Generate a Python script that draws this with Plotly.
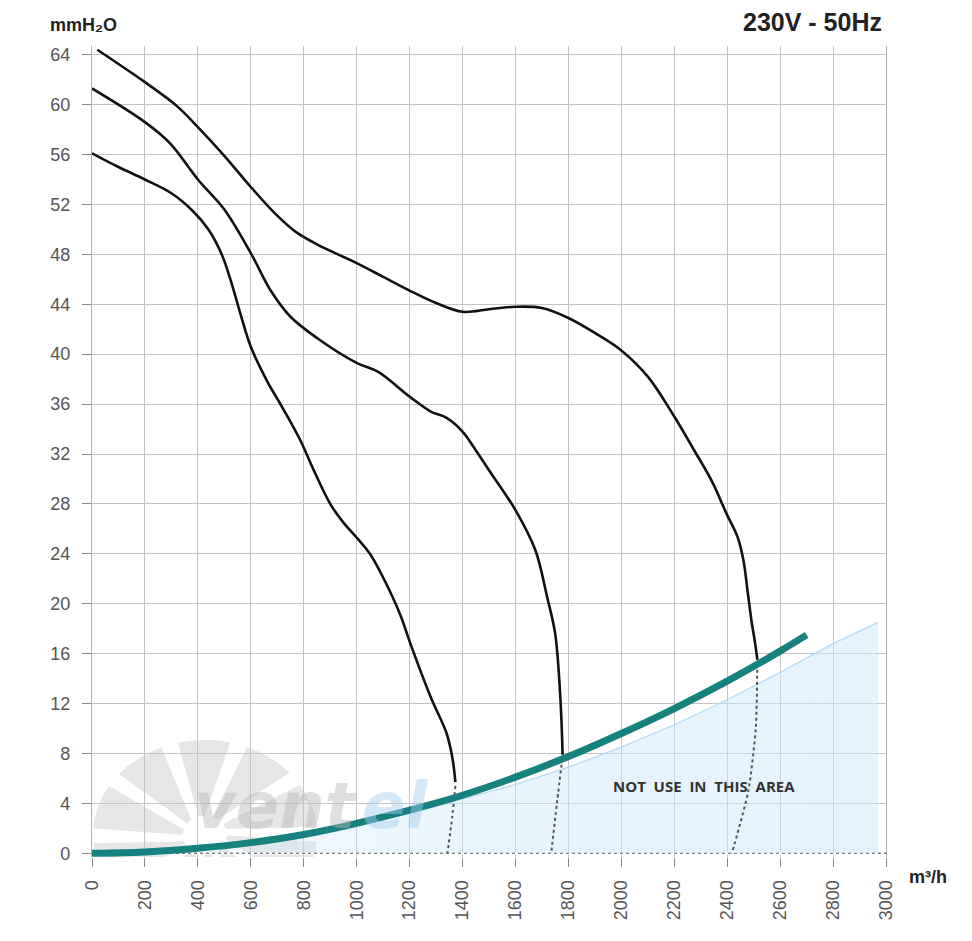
import math
import plotly.graph_objects as go

# ---------------- data ----------------
flow_ticks = list(range(0, 3001, 200))
press_ticks = list(range(0, 65, 4))

c1_x = [20, 200, 320, 400, 500, 600, 700, 770, 850, 1000, 1100, 1200, 1300, 1400,
        1500, 1600, 1700, 1800, 1900, 2000, 2100, 2200, 2275, 2340, 2400, 2440, 2462, 2477, 2492, 2505, 2514]
c1_y = [64.4, 61.8, 59.9, 58.2, 55.9, 53.4, 51.1, 49.8, 48.8, 47.3, 46.2, 45.1, 44.1, 43.4,
        43.6, 43.8, 43.7, 42.9, 41.7, 40.3, 38.2, 35.0, 32.3, 29.9, 27.1, 25.3, 23.4, 21.0, 18.6, 16.9, 15.5]

c2_x = [0, 200, 295, 400, 500, 600, 675, 750, 850, 1000, 1080, 1200, 1280, 1340,
        1400, 1450, 1500, 1600, 1675, 1720, 1750, 1770, 1778]
c2_y = [61.3, 58.6, 56.9, 54.0, 51.6, 48.1, 45.1, 43.0, 41.3, 39.3, 38.6, 36.6, 35.4, 34.9,
        33.8, 32.3, 30.7, 27.5, 24.3, 20.5, 17.6, 12.3, 7.9]

c3_x = [0, 100, 200, 300, 380, 440, 490, 530, 560, 600, 660, 720, 787, 840, 900, 950, 1000, 1050,
        1100, 1165, 1203, 1280, 1340, 1362, 1373]
c3_y = [56.1, 55.0, 54.0, 52.9, 51.5, 50.0, 48.0, 45.5, 43.3, 40.6, 37.9, 35.7, 33.1, 30.6, 28.0, 26.5, 25.3, 24.0,
        22.1, 19.1, 16.8, 12.5, 9.6, 7.6, 5.7]

d1_x = [2514, 2508, 2480, 2418]
d1_y = [15.2, 10.0, 5.0, 0.0]
d2_x = [1777, 1758, 1735]
d2_y = [7.6, 4.25, 0.0]
d3_x = [1373, 1361, 1343]
d3_y = [5.4, 2.9, 0.0]

sys_x = [0, 200, 400, 600, 800, 1000, 1200, 1400, 1600, 1800, 2000, 2200, 2400, 2600, 2700]
sys_y = [0.0, 0.1, 0.4, 0.85, 1.5, 2.4, 3.45, 4.65, 6.1, 7.75, 9.6, 11.6, 13.8, 16.2, 17.5]

zone_x = [0, 400, 800, 1200, 1600, 1800, 2000, 2200, 2400, 2600, 2800, 2970]
zone_y = [0.0, 0.35, 1.3, 3.2, 5.5, 6.9, 8.5, 10.3, 12.3, 14.5, 16.8, 18.5]

# ---------------- layout geometry ----------------
OFF = 8  # page body margin
X0, X1 = 0, 3000
Y0, Y1 = -0.3, 64.7
W, H = 956, 925
ML, MR, MT, MB = 84, 78, 38, 76
pw = W - ML - MR
ph = H - MT - MB


def px2x(px):  # page pixel -> data x
    return X0 + (px - OFF - ML) / pw * (X1 - X0)


def py2y(py):  # page pixel -> data y
    return Y0 + (H - MB - (py - OFF)) / ph * (Y1 - Y0)


def ppx(px):  # page pixel -> paper x
    return (px - OFF - ML) / pw


def ppy(py):  # page pixel -> paper y
    return (H - MB - (py - OFF)) / ph


fig = go.Figure()

# not-use zone fill
fig.add_trace(go.Scatter(
    x=zone_x + [zone_x[-1], zone_x[0]], y=zone_y + [0, 0],
    fill="toself", mode="lines", line=dict(width=0),
    fillgradient=dict(type="horizontal",
                      colorscale=[[0, "rgba(205,232,250,0.0)"], [0.3, "rgba(205,232,250,0.35)"],
                                  [0.6, "rgba(205,232,250,0.48)"], [1, "rgba(205,232,250,0.52)"]]),
    hoverinfo="skip"))
fig.add_trace(go.Scatter(x=zone_x, y=zone_y, mode="lines",
                         line=dict(color="rgba(175,215,242,0.9)", width=1.3), hoverinfo="skip"))

# dotted extensions
for dx, dy in [(d1_x, d1_y), (d2_x, d2_y), (d3_x, d3_y)]:
    fig.add_trace(go.Scatter(x=dx, y=dy, mode="lines", line=dict(color="#555", width=2, dash="dot",
                                                                  shape="spline", smoothing=0.6),
                             hoverinfo="skip"))

# fan curves
for cx, cy in [(c1_x, c1_y), (c2_x, c2_y), (c3_x, c3_y)]:
    fig.add_trace(go.Scatter(x=cx, y=cy, mode="lines",
                             line=dict(color="#111", width=2.6, shape="spline", smoothing=1.0)))

# system curve
fig.add_trace(go.Scatter(x=sys_x, y=sys_y, mode="lines",
                         line=dict(color="#178180", width=7, shape="spline", smoothing=1.0)))

# ---------------- watermark fan blades ----------------
shapes = []
cxp, cyp, rx, ry = 205, 835, 112, 95
for i in range(10):
    th = math.radians(i * 36 + 5)
    pts = [(0.2, math.radians(14))]
    for k in range(6):
        pts.append((1.0, math.radians(k * 5.4)))
    pts.append((0.2, math.radians(30)))
    coords = []
    for r, da in pts:
        a = th + da
        coords.append((px2x(cxp + r * rx * math.cos(a)), py2y(cyp - r * ry * math.sin(a))))
    path = "M " + " L ".join(f"{x:.2f},{y:.3f}" for x, y in coords) + " Z"
    shapes.append(dict(type="path", path=path, xref="x", yref="y", layer="below",
                       fillcolor="rgba(200,200,200,0.45)", line=dict(width=0)))

# dotted baseline at 0
shapes.append(dict(type="line", xref="x", yref="y", x0=X0, x1=X1, y0=0, y1=0, layer="between",
                   line=dict(color="white", width=2.5)))
shapes.append(dict(type="line", xref="x", yref="y", x0=X0, x1=X1, y0=0, y1=0, layer="between",
                   line=dict(color="#777", width=1.4, dash="dot")))

wx = px2x(360)
wy = py2y(806)
annotations = [
    dict(text="vent", xref="x", yref="y", x=wx, y=wy, xanchor="right", yanchor="middle",
         showarrow=False,
         font=dict(family="DejaVu Sans", size=64, color="rgba(185,185,185,0.45)",
                   style="italic", weight="bold")),
    dict(text="el", xref="x", yref="y", x=wx, y=wy, xanchor="left", yanchor="middle",
         showarrow=False,
         font=dict(family="DejaVu Sans", size=64, color="rgba(160,205,240,0.45)",
                   style="italic", weight="bold")),
    dict(text="mmH\u2082O", xref="paper", yref="paper", x=ppx(48), y=ppy(25),
         xanchor="left", yanchor="middle", showarrow=False,
         font=dict(family="Liberation Sans", size=18, color="#222", weight="bold")),
    dict(text="230V - 50Hz", xref="paper", yref="paper", x=ppx(884), y=ppy(22),
         xanchor="right", yanchor="middle", showarrow=False,
         font=dict(family="Liberation Sans", size=25, color="#222", weight="bold")),
    dict(text="m³/h", xref="paper", yref="paper", x=ppx(907), y=ppy(877),
         xanchor="left", yanchor="middle", showarrow=False,
         font=dict(family="Liberation Sans", size=18, color="#222", weight="bold")),
    dict(text="NOT  USE  IN  THIS  AREA", xref="x", yref="y",
         x=px2x(704), y=py2y(786), xanchor="center", yanchor="middle", showarrow=False,
         font=dict(family="Open Sans", size=15, color="#333", weight="bold")),
]

fig.update_layout(
    width=W, height=H, margin=dict(l=ML, r=MR, t=MT, b=MB),
    plot_bgcolor="white", paper_bgcolor="white", showlegend=False,
    shapes=shapes, annotations=annotations,
    xaxis=dict(range=[X0, X1], tickvals=flow_ticks, ticktext=[str(v) for v in flow_ticks],
               tickangle=-90, ticks="outside", ticklen=9, tickcolor="#888", tickwidth=1.2,
               tickfont=dict(family="Liberation Sans", size=18, color="#555"),
               ticklabelstandoff=6,
               showgrid=True, gridcolor="#c4c4c4", gridwidth=1.3, zeroline=False, showline=False),
    yaxis=dict(range=[Y0, Y1], tickvals=press_ticks, ticktext=[str(v) for v in press_ticks],
               ticks="outside", ticklen=9, tickcolor="#888", tickwidth=1.2,
               tickfont=dict(family="Liberation Sans", size=18, color="#555"),
               ticklabelstandoff=8,
               showgrid=True, gridcolor="#c4c4c4", gridwidth=1.3, zeroline=False,
               showline=True, linecolor="#b0b0b0", linewidth=1.3, mirror=True),
)

fig.write_html("out.html")
